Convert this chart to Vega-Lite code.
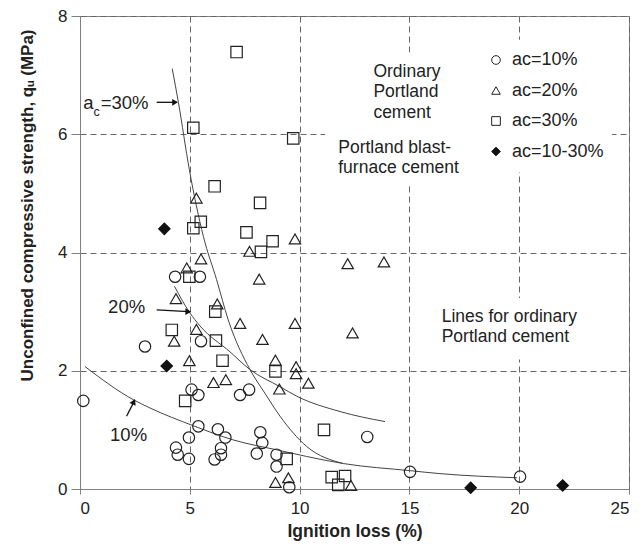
{
  "$schema": "https://vega.github.io/schema/vega-lite/v6.json",
  "width": 549,
  "height": 473,
  "autosize": {"type": "none"},
  "padding": {"left": 80, "top": 16, "right": 13, "bottom": 60},
  "background": "white",
  "config": {
    "font": "Liberation Sans",
    "view": {"stroke": "#808080", "strokeWidth": 1},
    "axis": {
      "grid": true,
      "gridDash": [6, 4],
      "gridColor": "#666666",
      "gridWidth": 1,
      "domainColor": "#808080",
      "tickColor": "#808080",
      "labelFontSize": 17,
      "labelColor": "#222222",
      "titleColor": "#222222",
      "titleFontWeight": "bold",
      "titleFontSize": 17
    }
  },
  "layer": [
    {
      "data": {"values": [
        {"x": 11.16, "xe": 17.76, "y": 5.14, "ye": 7.38},
        {"x": 17.76, "xe": 24.23, "y": 5.36, "ye": 7.6},
        {"x": 16.17, "xe": 24.0, "y": 2.19, "ye": 3.23}
      ]},
      "mark": {"type": "rect", "fill": "white"},
      "encoding": {
        "x": {"field": "x", "type": "quantitative", "scale": {"domain": [0, 25], "nice": false},
          "axis": {"values": [0, 5, 10, 15, 20, 25], "format": "d", "title": "Ignition loss (%)", "tickSize": 5, "labelPadding": 6, "titleY": 42, "titleBaseline": "middle", "titleFontSize": 17.5}},
        "x2": {"field": "xe"},
        "y": {"field": "y", "type": "quantitative", "scale": {"domain": [0, 8], "nice": false},
          "axis": {"values": [0, 2, 4, 6, 8], "format": "d", "title": "Unconfined compressive strength, qᵤ (MPa)", "tickSize": 9, "labelPadding": 4, "titleX": -53, "titleY": 189, "titleAngle": -90, "titleBaseline": "middle", "titleAlign": "center"}},
        "y2": {"field": "ye"}
      }
    },
    {
      "data": {"values": [
        {"curve": "30%", "x": 4.2, "y": 7.11},
        {"curve": "30%", "x": 4.48, "y": 6.54},
        {"curve": "30%", "x": 4.98, "y": 5.4},
        {"curve": "30%", "x": 5.62, "y": 4.27},
        {"curve": "30%", "x": 6.22, "y": 3.54},
        {"curve": "30%", "x": 6.75, "y": 2.86},
        {"curve": "30%", "x": 7.74, "y": 2.02},
        {"curve": "30%", "x": 8.42, "y": 1.62},
        {"curve": "30%", "x": 9.11, "y": 1.23},
        {"curve": "30%", "x": 10.32, "y": 0.72},
        {"curve": "30%", "x": 11.99, "y": 0.43},
        {"curve": "20%", "x": 4.3, "y": 3.43},
        {"curve": "20%", "x": 5.0, "y": 2.98},
        {"curve": "20%", "x": 5.46, "y": 2.76},
        {"curve": "20%", "x": 6.83, "y": 2.32},
        {"curve": "20%", "x": 7.74, "y": 2.02},
        {"curve": "20%", "x": 9.11, "y": 1.73},
        {"curve": "20%", "x": 9.87, "y": 1.57},
        {"curve": "20%", "x": 11.84, "y": 1.31},
        {"curve": "20%", "x": 13.89, "y": 1.14},
        {"curve": "10%", "x": 0.23, "y": 2.07},
        {"curve": "10%", "x": 2.43, "y": 1.51},
        {"curve": "10%", "x": 3.19, "y": 1.37},
        {"curve": "10%", "x": 5.16, "y": 1.07},
        {"curve": "10%", "x": 6.98, "y": 0.83},
        {"curve": "10%", "x": 9.11, "y": 0.65},
        {"curve": "10%", "x": 10.32, "y": 0.55},
        {"curve": "10%", "x": 12.0, "y": 0.43},
        {"curve": "10%", "x": 15.03, "y": 0.31},
        {"curve": "10%", "x": 16.39, "y": 0.26},
        {"curve": "10%", "x": 19.9, "y": 0.19}
      ]},
      "mark": {"type": "line", "color": "#444444", "strokeWidth": 1, "interpolate": "monotone"},
      "encoding": {
        "x": {"field": "x", "type": "quantitative"},
        "y": {"field": "y", "type": "quantitative"},
        "detail": {"field": "curve", "type": "nominal"}
      }
    },
    {
      "data": {"values": [
        {"series": "ac=10%", "x": 4.33, "y": 3.59},
        {"series": "ac=10%", "x": 5.46, "y": 3.59},
        {"series": "ac=10%", "x": 2.96, "y": 2.41},
        {"series": "ac=10%", "x": 5.51, "y": 2.5},
        {"series": "ac=10%", "x": 5.08, "y": 1.68},
        {"series": "ac=10%", "x": 5.39, "y": 1.59},
        {"series": "ac=10%", "x": 7.29, "y": 1.59},
        {"series": "ac=10%", "x": 7.7, "y": 1.68},
        {"series": "ac=10%", "x": 0.15, "y": 1.49},
        {"series": "ac=10%", "x": 5.39, "y": 1.06},
        {"series": "ac=10%", "x": 6.28, "y": 1.01},
        {"series": "ac=10%", "x": 6.62, "y": 0.87},
        {"series": "ac=10%", "x": 4.96, "y": 0.87},
        {"series": "ac=10%", "x": 4.37, "y": 0.7},
        {"series": "ac=10%", "x": 4.45, "y": 0.58},
        {"series": "ac=10%", "x": 4.96, "y": 0.51},
        {"series": "ac=10%", "x": 6.42, "y": 0.69},
        {"series": "ac=10%", "x": 6.42, "y": 0.58},
        {"series": "ac=10%", "x": 6.13, "y": 0.5},
        {"series": "ac=10%", "x": 8.05, "y": 0.6},
        {"series": "ac=10%", "x": 8.21, "y": 0.96},
        {"series": "ac=10%", "x": 8.3, "y": 0.78},
        {"series": "ac=10%", "x": 8.95, "y": 0.58},
        {"series": "ac=10%", "x": 8.95, "y": 0.38},
        {"series": "ac=10%", "x": 9.53, "y": 0.03},
        {"series": "ac=10%", "x": 13.08, "y": 0.88},
        {"series": "ac=10%", "x": 15.03, "y": 0.29},
        {"series": "ac=10%", "x": 20.04, "y": 0.21},
        {"series": "ac=20%", "x": 5.3, "y": 4.92},
        {"series": "ac=20%", "x": 7.72, "y": 4.02},
        {"series": "ac=20%", "x": 5.51, "y": 3.89},
        {"series": "ac=20%", "x": 4.86, "y": 3.74},
        {"series": "ac=20%", "x": 4.37, "y": 3.22},
        {"series": "ac=20%", "x": 6.25, "y": 3.13},
        {"series": "ac=20%", "x": 7.29, "y": 2.8},
        {"series": "ac=20%", "x": 9.79, "y": 4.23},
        {"series": "ac=20%", "x": 12.19, "y": 3.81},
        {"series": "ac=20%", "x": 13.84, "y": 3.84},
        {"series": "ac=20%", "x": 8.16, "y": 3.55},
        {"series": "ac=20%", "x": 9.79, "y": 2.8},
        {"series": "ac=20%", "x": 12.41, "y": 2.64},
        {"series": "ac=20%", "x": 8.31, "y": 2.53},
        {"series": "ac=20%", "x": 8.9, "y": 2.18},
        {"series": "ac=20%", "x": 9.84, "y": 2.07},
        {"series": "ac=20%", "x": 9.84, "y": 1.95},
        {"series": "ac=20%", "x": 10.4, "y": 1.79},
        {"series": "ac=20%", "x": 9.08, "y": 1.69},
        {"series": "ac=20%", "x": 4.29, "y": 2.5},
        {"series": "ac=20%", "x": 5.3, "y": 2.7},
        {"series": "ac=20%", "x": 4.98, "y": 2.17},
        {"series": "ac=20%", "x": 6.08, "y": 1.8},
        {"series": "ac=20%", "x": 6.64, "y": 1.85},
        {"series": "ac=20%", "x": 8.9, "y": 0.11},
        {"series": "ac=20%", "x": 9.49, "y": 0.19},
        {"series": "ac=20%", "x": 12.34, "y": 0.06},
        {"series": "ac=30%", "x": 5.16, "y": 6.11},
        {"series": "ac=30%", "x": 7.13, "y": 7.39},
        {"series": "ac=30%", "x": 9.71, "y": 5.93},
        {"series": "ac=30%", "x": 6.13, "y": 5.12},
        {"series": "ac=30%", "x": 5.5, "y": 4.52},
        {"series": "ac=30%", "x": 5.16, "y": 4.41},
        {"series": "ac=30%", "x": 7.58, "y": 4.34},
        {"series": "ac=30%", "x": 8.2, "y": 4.84},
        {"series": "ac=30%", "x": 8.77, "y": 4.19},
        {"series": "ac=30%", "x": 8.24, "y": 4.01},
        {"series": "ac=30%", "x": 4.98, "y": 3.59},
        {"series": "ac=30%", "x": 6.16, "y": 3.0},
        {"series": "ac=30%", "x": 4.18, "y": 2.69},
        {"series": "ac=30%", "x": 6.19, "y": 2.51},
        {"series": "ac=30%", "x": 6.49, "y": 2.17},
        {"series": "ac=30%", "x": 4.79, "y": 1.49},
        {"series": "ac=30%", "x": 8.9, "y": 1.99},
        {"series": "ac=30%", "x": 11.11, "y": 1.0},
        {"series": "ac=30%", "x": 9.41, "y": 0.51},
        {"series": "ac=30%", "x": 11.46, "y": 0.2},
        {"series": "ac=30%", "x": 12.07, "y": 0.22},
        {"series": "ac=30%", "x": 11.76, "y": 0.07},
        {"series": "ac=10-30%", "x": 3.84, "y": 4.4},
        {"series": "ac=10-30%", "x": 3.95, "y": 2.08},
        {"series": "ac=10-30%", "x": 17.79, "y": 0.02},
        {"series": "ac=10-30%", "x": 21.98, "y": 0.06}
      ]},
      "mark": {"type": "point", "filled": true, "size": 130, "strokeWidth": 1.2, "opacity": 1},
      "encoding": {
        "x": {"field": "x", "type": "quantitative"},
        "y": {"field": "y", "type": "quantitative"},
        "shape": {"field": "series", "type": "nominal", "title": null,
          "scale": {"domain": ["ac=10%", "ac=20%", "ac=30%", "ac=10-30%"], "range": ["circle", "triangle-up", "square", "diamond"]},
          "legend": {"orient": "none", "legendX": 407, "legendY": 35, "labelFontSize": 18, "labelColor": "#222222", "symbolSize": 75, "symbolStrokeWidth": 1, "rowPadding": 12.5, "labelOffset": 7, "padding": 0}},
        "fill": {"field": "series", "type": "nominal", "title": null,
          "scale": {"domain": ["ac=10%", "ac=20%", "ac=30%", "ac=10-30%"], "range": ["transparent", "transparent", "transparent", "#111111"]}},
        "stroke": {"field": "series", "type": "nominal", "title": null,
          "scale": {"domain": ["ac=10%", "ac=20%", "ac=30%", "ac=10-30%"], "range": ["#222222", "#222222", "#222222", "#111111"]}}
      }
    },
    {
      "data": {"values": [
        {"arrow": "a30", "x": 3.49, "y": 6.54},
        {"arrow": "a30", "x": 4.4, "y": 6.54},
        {"arrow": "a20", "x": 3.49, "y": 3.03},
        {"arrow": "a20", "x": 4.95, "y": 3.0},
        {"arrow": "a10", "x": 2.12, "y": 1.23},
        {"arrow": "a10", "x": 2.45, "y": 1.47}
      ]},
      "mark": {"type": "line", "color": "#111111", "strokeWidth": 1.3},
      "encoding": {
        "x": {"field": "x", "type": "quantitative"},
        "y": {"field": "y", "type": "quantitative"},
        "detail": {"field": "arrow", "type": "nominal"}
      }
    },
    {
      "data": {"values": [
        {"x": 4.33, "y": 6.54},
        {"x": 4.93, "y": 3.0}
      ]},
      "mark": {"type": "point", "shape": "triangle-right", "filled": true, "color": "#111111", "size": 45, "opacity": 1},
      "encoding": {
        "x": {"field": "x", "type": "quantitative"},
        "y": {"field": "y", "type": "quantitative"}
      }
    },
    {
      "data": {"values": [
        {"x": 2.45, "y": 1.476}
      ]},
      "mark": {"type": "point", "shape": "triangle-up", "angle": 25, "filled": true, "color": "#111111", "size": 45, "opacity": 1},
      "encoding": {
        "x": {"field": "x", "type": "quantitative"},
        "y": {"field": "y", "type": "quantitative"}
      }
    },
    {
      "data": {"values": [
        {"x": 13.36, "y": 6.97, "label": "Ordinary\nPortland\ncement"},
        {"x": 11.76, "y": 5.69, "label": "Portland  blast-\nfurnace cement"},
        {"x": 16.47, "y": 2.83, "label": "Lines for ordinary\nPortland  cement"}
      ]},
      "mark": {"type": "text", "align": "left", "baseline": "alphabetic", "fontSize": 17.5, "lineHeight": 20.5, "lineBreak": "\n", "color": "#222222"},
      "encoding": {
        "x": {"field": "x", "type": "quantitative"},
        "y": {"field": "y", "type": "quantitative"},
        "text": {"field": "label", "type": "nominal"}
      }
    },
    {
      "data": {"values": [
        {"x": 0.15, "y": 6.43, "label": "a"},
        {"x": 0.94, "y": 6.43, "label": "=30%"},
        {"x": 1.28, "y": 2.98, "label": "20%"},
        {"x": 1.37, "y": 0.82, "label": "10%"}
      ]},
      "mark": {"type": "text", "align": "left", "baseline": "alphabetic", "fontSize": 18.5, "color": "#222222"},
      "encoding": {
        "x": {"field": "x", "type": "quantitative"},
        "y": {"field": "y", "type": "quantitative"},
        "text": {"field": "label", "type": "nominal"}
      }
    },
    {
      "data": {"values": [
        {"x": 0.61, "y": 6.31, "label": "c"}
      ]},
      "mark": {"type": "text", "align": "left", "baseline": "alphabetic", "fontSize": 12.5, "color": "#222222"},
      "encoding": {
        "x": {"field": "x", "type": "quantitative"},
        "y": {"field": "y", "type": "quantitative"},
        "text": {"field": "label", "type": "nominal"}
      }
    }
  ]
}
